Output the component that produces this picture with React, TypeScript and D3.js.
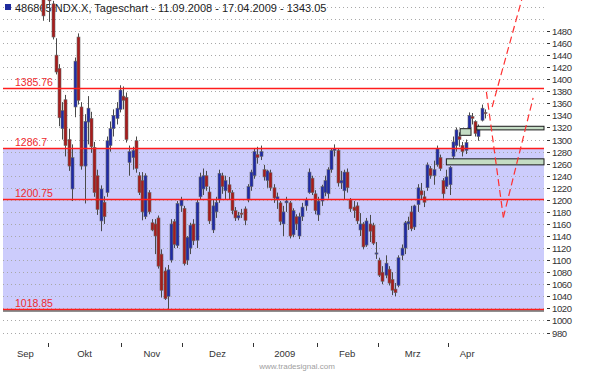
import React from 'react';
import * as d3 from 'd3';

const W = 595;
const H = 373;

// NDX daily candles 11.09.2008 - 17.04.2009
const opens = [
  1700, 1720, 1700, 1640, 1675, 1615, 1760, 1730, 1670, 1650, 1655, 1650, 1600, 1540,
  1580, 1525, 1440, 1418, 1318, 1366, 1300, 1218, 1354, 1470, 1354, 1256, 1329, 1335, 1287, 1240, 1165, 1196, 1212, 1290, 1318, 1335, 1350,
  1372, 1370, 1262, 1270, 1298, 1240, 1232, 1172, 1212, 1162, 1160, 1170, 1110, 1082, 1040, 1100, 1164, 1124, 1190,
  1186, 1100, 1120, 1160, 1133, 1205, 1218, 1240, 1213, 1150, 1180, 1200, 1240, 1215, 1225, 1212, 1182, 1170, 1178, 1185, 1200, 1222,
  1240, 1275, 1272, 1250, 1232, 1245, 1220, 1200, 1195, 1160, 1195, 1195, 1142, 1172, 1140, 1172, 1190, 1212, 1236, 1210,
  1175, 1198, 1212, 1210, 1250, 1282, 1282, 1228, 1215, 1246, 1200, 1188, 1190, 1150, 1160, 1125, 1160, 1158, 1110,
  1100, 1080, 1075, 1085, 1068, 1052, 1058, 1108, 1120, 1160, 1180, 1155, 1192, 1215, 1205, 1220, 1252, 1240, 1258, 1270, 1232, 1222,
  1225, 1272, 1290, 1305, 1290, 1282, 1318, 1338, 1330, 1305, 1332, 1345,
];
const highs = [
  1735, 1745, 1720, 1700, 1680, 1690, 1775, 1735, 1690, 1665, 1700, 1680, 1610, 1600,
  1590, 1530, 1468, 1425, 1362, 1374, 1318, 1292, 1436, 1476, 1362, 1342, 1372, 1346, 1296, 1250, 1224, 1206, 1305, 1330, 1350, 1362, 1390,
  1388, 1378, 1290, 1288, 1305, 1246, 1246, 1244, 1216, 1168, 1168, 1174, 1118, 1088, 1092, 1168, 1168, 1198, 1205,
  1190, 1140, 1162, 1168, 1200, 1245, 1252, 1248, 1222, 1200, 1205, 1250, 1245, 1240, 1238, 1216, 1188, 1180, 1185, 1189, 1226, 1250,
  1286, 1288, 1290, 1258, 1250, 1250, 1226, 1212, 1198, 1190, 1205, 1198, 1186, 1176, 1178, 1195, 1204, 1252, 1240, 1216,
  1205, 1225, 1240, 1254, 1285, 1292, 1286, 1248, 1250, 1252, 1203, 1198, 1196, 1178, 1163, 1170, 1175, 1162, 1130,
  1104, 1090, 1108, 1090, 1080, 1062, 1108, 1126, 1165, 1172, 1190, 1192, 1226, 1228, 1215, 1262, 1256, 1265, 1290, 1275, 1236, 1250,
  1256, 1305, 1320, 1312, 1296, 1300, 1345, 1344, 1332, 1325, 1358, 1350,
];
const lows = [
  1670, 1710, 1665, 1630, 1600, 1575, 1715, 1665, 1640, 1630, 1650, 1640, 1497, 1535,
  1495, 1466, 1408, 1322, 1300, 1272, 1248, 1198, 1337, 1358, 1250, 1194, 1292, 1278, 1205, 1175, 1148, 1160, 1205, 1280, 1305, 1325, 1345,
  1350, 1295, 1240, 1250, 1245, 1208, 1166, 1168, 1176, 1148, 1110, 1086, 1038, 1034, 1019, 1096, 1120, 1120, 1180,
  1091, 1092, 1110, 1125, 1120, 1200, 1208, 1215, 1160, 1145, 1170, 1195, 1210, 1200, 1200, 1176, 1165, 1166, 1170, 1158, 1196, 1215,
  1235, 1260, 1266, 1232, 1220, 1215, 1195, 1185, 1158, 1140, 1180, 1136, 1138, 1150, 1135, 1165, 1182, 1210, 1208, 1176,
  1165, 1190, 1206, 1202, 1245, 1272, 1222, 1218, 1200, 1212, 1180, 1170, 1160, 1140, 1118, 1122, 1130, 1125, 1102,
  1072, 1060, 1070, 1058, 1042, 1040, 1055, 1100, 1110, 1150, 1148, 1150, 1180, 1200, 1188, 1215, 1235, 1225, 1255, 1248, 1202, 1218,
  1208, 1268, 1280, 1288, 1272, 1276, 1315, 1325, 1305, 1298, 1330, 1335,
];
const closes = [
  1728, 1738, 1668, 1690, 1605, 1682, 1738, 1668, 1648, 1652, 1675, 1672, 1505, 1595,
  1530, 1470, 1412, 1336, 1348, 1290, 1256, 1270, 1430, 1365, 1256, 1330, 1352, 1288, 1212, 1184, 1218, 1172, 1298, 1318, 1340, 1352, 1382,
  1365, 1300, 1280, 1282, 1252, 1212, 1180, 1240, 1180, 1150, 1140, 1090, 1050, 1036, 1084, 1160, 1126, 1194, 1200,
  1094, 1138, 1158, 1132, 1196, 1238, 1240, 1222, 1165, 1190, 1196, 1244, 1222, 1232, 1212, 1182, 1170, 1174, 1176, 1166, 1222, 1246,
  1280, 1270, 1280, 1238, 1248, 1220, 1203, 1205, 1164, 1180, 1198, 1140, 1182, 1160, 1172, 1188, 1200, 1246, 1212, 1182,
  1198, 1222, 1232, 1250, 1282, 1285, 1228, 1232, 1246, 1220, 1185, 1182, 1165, 1160, 1122, 1165, 1148, 1128, 1112,
  1075, 1065, 1095, 1062, 1050, 1046, 1104, 1120, 1162, 1164, 1152, 1190, 1220, 1208, 1196, 1258, 1240, 1250, 1285, 1252, 1210, 1238,
  1254, 1296, 1316, 1300, 1280, 1295, 1340, 1335, 1310, 1322, 1352, 1343,
];

const holidays = ['2008-11-27', '2008-12-25', '2009-01-01', '2009-01-19', '2009-02-16', '2009-04-10'];
const monthNames = ['Sep', 'Okt', 'Nov', 'Dez', '2009', 'Feb', 'Mrz', 'Apr'];

const levels = [1385.76, 1286.7, 1200.75, 1018.85];
const bandTop = 1286.7;
const bandBottom = 1018.85;

// support boxes: [bar from, bar to, low, high]
const zones = [
  [138.5, 169, 1258, 1268],
  [148, 169, 1316, 1322],
  [142.8, 146.2, 1307, 1318],
];
// dashed projections: [bar, value] pairs
const projections = [
  [[151, 1379], [156.3, 1171]],
  [[156.3, 1171], [165.6, 1369]],
  [[152.8, 1354], [163.5, 1560]],
];

const yTickValues = d3.range(980, 1481, 20);
const gridValues = d3.range(980, 1521, 20);

const days = d3.utcDay
  .range(new Date(Date.UTC(2008, 8, 11)), new Date(Date.UTC(2009, 3, 18)))
  .filter(d => d.getUTCDay() !== 0 && d.getUTCDay() !== 6 && !holidays.includes(d.toISOString().slice(0, 10)));

const App: React.FC = () => {
  const x = d3.scaleLinear().domain([0, 169]).range([3, 544]);
  const y = d3.scaleLinear().domain([980, 1480]).range([332.5, 31]);
  const font = '"Liberation Sans", Arial, sans-serif';
  const py = (v: number) => Math.round(y(v)) + 0.5;

  // month starts
  const monthStarts: number[] = [0];
  days.forEach((d, i) => {
    if (i > 0 && d.getUTCMonth() !== days[i - 1].getUTCMonth()) monthStarts.push(i);
  });
  const monthEnds = monthStarts.slice(1).concat([days.length]);

  const line = d3.line<number[]>().x(d => x(d[0])).y(d => y(d[1]));

  return (
    <svg width={W} height={H} style={{ position: 'absolute', left: 0, top: 0, background: '#fff' }} fontFamily={font}>
      <rect x={0} y={0} width={W} height={H} fill="#fff" />
      {/* support band */}
      <rect x={x(0)} y={py(bandTop)} width={x(169) - x(0)} height={py(bandBottom) - py(bandTop)} fill="#ccccfc" />
      {/* grid */}
      {gridValues.map(v => (
        <line key={v} x1={x(0)} x2={x(169)} y1={py(v)} y2={py(v)}
          stroke="#a8a8a8" strokeDasharray="1,3" />
      ))}
      {/* title */}
      <rect x={5} y={4} width={6} height={6} fill="#1e2a9c" />
      <text x={15} y={12} fontSize={11} fill="#222">486865 NDX.X, Tageschart - 11.09.2008 - 17.04.2009 - 1343.05</text>
      {/* candles */}
      {closes.map((c, i) => {
        const o = opens[i];
        const cx = Math.round(x(i + 0.5)) + 0.5;
        const top = y(Math.max(o, c));
        const bot = y(Math.min(o, c));
        const up = c >= o;
        return (
          <g key={i}>
            <line x1={cx} x2={cx} y1={y(highs[i])} y2={y(lows[i])} stroke="#4a4a4a" strokeWidth={1} />
            <rect x={cx - 1.5} y={top} width={3} height={Math.max(1, bot - top)}
              fill={up ? '#1f2aa8' : '#a81c1c'} stroke="#6a6a6a" strokeWidth={0.6} />
          </g>
        );
      })}
      {/* level lines */}
      {levels.map(v => (
        <g key={v}>
          <line x1={x(0)} x2={x(169)} y1={py(v)} y2={py(v)} stroke="#ff1c1c" strokeWidth={1.4} />
          <text x={15} y={py(v) - 2.5} fontSize={10.5} fill="#ee2a2e">{String(v)}</text>
        </g>
      ))}
      <line x1={x(0)} x2={x(169)} y1={py(bandBottom) + 1.5} y2={py(bandBottom) + 1.5} stroke="#222" strokeWidth={1} />
      {/* zones */}
      {zones.map((z, i) => (
        <rect key={i} x={x(z[0])} y={y(z[3])} width={x(z[1]) - x(z[0])} height={y(z[2]) - y(z[3])}
          fill="#c4dcc4" stroke="#1a1a1a" strokeWidth={1} />
      ))}
      {/* projections */}
      {projections.map((p, i) => (
        <path key={i} d={line(p) || ''} fill="none" stroke="#ff3030" strokeWidth={1.2} strokeDasharray="7,4" />
      ))}
      {/* y axis */}
      {yTickValues.map(v => (
        <g key={v} transform={`translate(0,${py(v)})`}>
          <line x1={547} x2={550} y1={0} y2={0} stroke="#333" />
          <text x={552} y={3.5} fontSize={9.5} letterSpacing={-0.4} fill="#333">{v}</text>
        </g>
      ))}
      {/* x axis */}
      {monthStarts.slice(1).map(i => (
        <line key={i} x1={Math.round(x(i)) + 0.5} x2={Math.round(x(i)) + 0.5} y1={343} y2={347} stroke="#333" />
      ))}
      {monthStarts.map((s, k) => (
        <text key={s} x={x((s + monthEnds[k]) / 2)} y={357} fontSize={9.5} textAnchor="middle" fill="#333">{monthNames[k]}</text>
      ))}
      <text x={297} y={369} fontSize={8} textAnchor="middle" fill="#a0a0a0">www.tradesignal.com</text>
    </svg>
  );
};

export default App;
